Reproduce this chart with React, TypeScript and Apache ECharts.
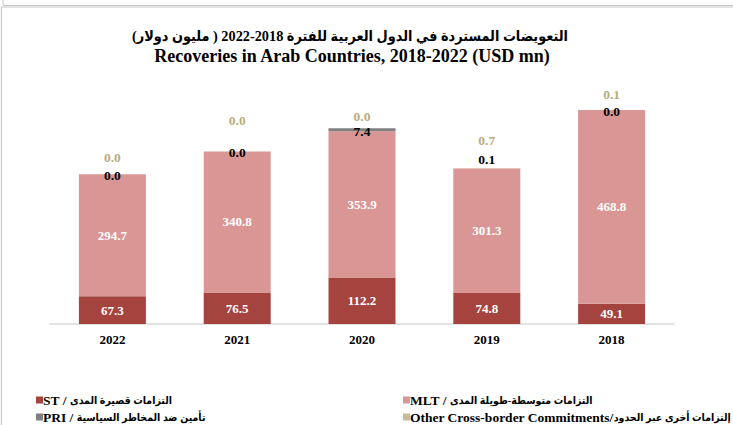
import React, { useEffect, useRef } from "react";
import * as echarts from "echarts";

const categories = ["2022", "2021", "2020", "2019", "2018"];
const stValues = [67.3, 76.5, 112.2, 74.8, 49.1];
const mltValues = [294.7, 340.8, 353.9, 301.3, 468.8];
const priValues = [0.0, 0.0, 7.4, 0.1, 0.0];
const otherValues = [0.0, 0.0, 0.0, 0.7, 0.1];

const titleAr = "التعويضات المستردة في الدول العربية للفترة 2018-2022 ( مليون دولار)";
const titleEn = "Recoveries in Arab Countries, 2018-2022 (USD mn)";
const legendST = "ST / التزامات قصيرة المدى";
const legendMLT = "MLT / التزامات متوسطة-طويلة المدى";
const legendPRI = "PRI / تأمين ضد المخاطر السياسية";
const legendOther = "Other Cross-border Commitments/إلتزامات أخرى عبر الحدود";

// per-point vertical label nudges (styling, not data)
const priLabelOffsets = [8, 8, 10, -2, 9];
const otherLabelOffsets = [-10, -24, -5, -21, -8];

const FONT = "'Liberation Serif', 'Times New Roman', serif";
const AR_FONT = "'Liberation Serif', 'DejaVu Sans Condensed', 'DejaVu Sans', serif";
const C_ST = "#A5433F";
const C_MLT = "#D99694";
const C_PRI = "#7F7F7F";
const C_OTHER = "#C4BD97";
const C_OTHER_LABEL = "#B8AD7F";

export default function App() {
  const ref = useRef<HTMLDivElement>(null);
  useEffect(() => {
    if (!ref.current) return;
    const chart = echarts.init(ref.current, undefined, { renderer: "svg" });
    const fmt = (p: any) => Number(p.value).toFixed(1);
    const legendFormatter = (name: string) => {
      const idx = name.indexOf("/");
      const lat = name.slice(0, idx + 1) + (name[idx + 1] === " " ? " " : "");
      const ar = name.slice(idx + 1).trim();
      return `{a|${lat}}{b|${ar}}`;
    };
    const legendBase = {
      orient: "horizontal" as const,
      itemWidth: 7,
      itemHeight: 7,
      icon: "rect",
      formatter: legendFormatter,
      textStyle: {
        padding: [0, 0, 0, -5],
        rich: {
          a: {
            fontFamily: FONT,
            fontWeight: "bold",
            fontSize: 13.5,
            color: "#000",
          },
          b: {
            fontFamily: AR_FONT,
            fontWeight: "bold",
            fontSize: 10.5,
            color: "#000",
          },
        },
      },
    };
    chart.setOption({
      animation: false,
      backgroundColor: "#fff",
      graphic: [
        {
          type: "polyline",
          shape: { points: [[3, 0], [3, 5.5], [733, 5.5]] },
          style: { stroke: "#C8C8C8", lineWidth: 1, fill: null },
          silent: true,
        },
        {
          type: "rect",
          shape: { x: 1.5, y: 7, width: 740, height: 430 },
          style: { stroke: "#C8C8C8", lineWidth: 1.2, fill: null },
          silent: true,
        },
        {
          type: "text",
          x: 350,
          y: 36,
          style: {
            text: titleAr,
            fontFamily: AR_FONT,
            fontWeight: "bold",
            fontSize: 14.3,
            fill: "#000",
            textAlign: "center",
            textVerticalAlign: "middle",
          },
        },
        {
          type: "text",
          x: 352,
          y: 56,
          style: {
            text: titleEn,
            fontFamily: FONT,
            fontWeight: "bold",
            fontSize: 18,
            fill: "#000",
            textAlign: "center",
            textVerticalAlign: "middle",
          },
        },
      ],
      legend: [
        { ...legendBase, left: 31, top: 388, data: [legendST] },
        { ...legendBase, left: 398, top: 388, data: [legendMLT] },
        { ...legendBase, left: 31, top: 405, data: [legendPRI] },
        { ...legendBase, left: 398, top: 405, data: [legendOther] },
      ],
      grid: { left: 50, right: 59, top: 76, bottom: 101 },
      xAxis: {
        type: "category",
        data: categories,
        axisLine: { lineStyle: { color: "#D9D9D9", width: 1.5 } },
        axisTick: { show: false },
        axisLabel: {
          fontFamily: FONT,
          fontWeight: "bold",
          fontSize: 13,
          color: "#000",
          margin: 9,
        },
      },
      yAxis: {
        type: "value",
        min: 0,
        max: 600,
        show: false,
        splitLine: { show: false },
      },
      series: [
        {
          name: legendST,
          type: "bar",
          stack: "t",
          barWidth: 67,
          data: stValues,
          itemStyle: { color: C_ST },
          label: {
            show: true,
            position: "inside",
            formatter: fmt,
            color: "#fff",
            fontFamily: FONT,
            fontWeight: "bold",
            fontSize: 13,
          },
        },
        {
          name: legendMLT,
          type: "bar",
          stack: "t",
          barWidth: 67,
          data: mltValues,
          itemStyle: { color: C_MLT },
          label: {
            show: true,
            position: "inside",
            formatter: fmt,
            color: "#fff",
            fontFamily: FONT,
            fontWeight: "bold",
            fontSize: 13,
          },
        },
        {
          name: legendPRI,
          type: "bar",
          stack: "t",
          barWidth: 67,
          data: priValues.map((v, i) => ({
            value: v,
            label: { offset: [0, priLabelOffsets[i]] },
          })),
          itemStyle: { color: C_PRI },
          label: {
            show: true,
            position: "top",
            distance: 0,
            formatter: fmt,
            color: "#000",
            fontFamily: FONT,
            fontWeight: "bold",
            fontSize: 13.5,
          },
        },
        {
          name: legendOther,
          type: "bar",
          stack: "t",
          barWidth: 67,
          data: otherValues.map((v, i) => ({
            value: v,
            label: { offset: [0, otherLabelOffsets[i]] },
          })),
          itemStyle: { color: C_OTHER },
          label: {
            show: true,
            position: "top",
            distance: 0,
            formatter: fmt,
            color: C_OTHER_LABEL,
            fontFamily: FONT,
            fontWeight: "bold",
            fontSize: 13.5,
          },
        },
      ],
    });
    return () => chart.dispose();
  }, []);
  return (
    <div
      ref={ref}
      style={{ position: "fixed", left: 0, top: 0, width: 733, height: 425 }}
    />
  );
}
